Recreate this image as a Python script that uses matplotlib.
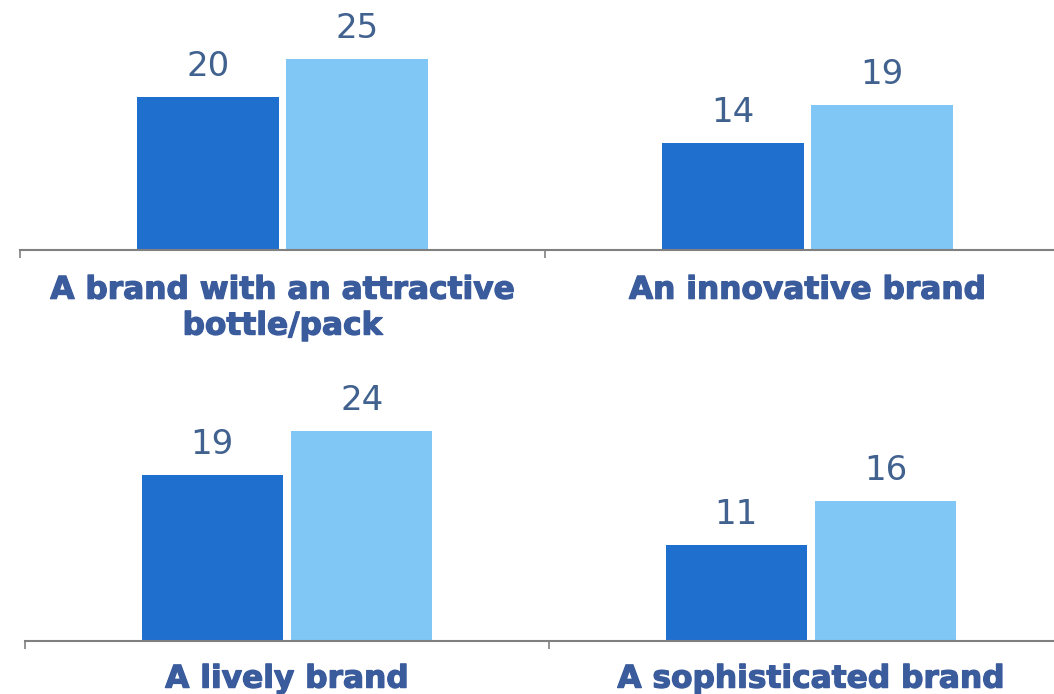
import matplotlib.pyplot as plt
import matplotlib.patheffects as pe
import numpy as np

# Survey attributes, two series per attribute (dark = first series, light = second)
top_labels = ["A brand with an attractive\nbottle/pack", "An innovative brand"]
top_dark = [20, 14]
top_light = [25, 19]

bottom_labels = ["A lively brand", "A sophisticated brand"]
bottom_dark = [19, 11]
bottom_light = [24, 16]

dark_color = "#1f6fcf"
light_color = "#80c7f6"
value_color = "#41618f"
label_color = "#3a5b9c"
axis_color = "#808080"

fig = plt.figure(figsize=(10.54, 6.94), dpi=100)

# one axes per row, with its own vertical scale
ax_top = fig.add_axes([20 / 1054, 444 / 694, 1050 / 1054, 229.5 / 694])
ax_bot = fig.add_axes([25 / 1054, 53 / 694, 1048 / 1054, 227.5 / 694])


def draw_row(ax, labels, dark, light, ymax, label_pad):
    x = np.arange(len(labels))
    width = 0.27
    offset = 0.1425
    b1 = ax.bar(x + 0.5 - offset, dark, width, color=dark_color)
    b2 = ax.bar(x + 0.5 + offset, light, width, color=light_color)
    for bars, vals in ((b1, dark), (b2, light)):
        for bar, v in zip(bars, vals):
            ax.annotate(str(v), (bar.get_x() + bar.get_width() / 2, v),
                        xytext=(0, 22), textcoords="offset points",
                        ha="center", va="center", fontsize=24.5,
                        color=value_color)
    for i, lab in enumerate(labels):
        ax.annotate(lab, (i + 0.5, 0), xycoords=("data", "axes fraction"),
                    xytext=(0, -label_pad), textcoords="offset points",
                    ha="center", va="top", fontsize=22.5, fontweight="bold",
                    color=label_color, linespacing=1.3,
                    path_effects=[pe.withStroke(linewidth=0.9,
                                                foreground=label_color)])

    ax.set_xlim(0, 2)
    ax.set_ylim(0, ymax)
    for side in ("top", "left", "right"):
        ax.spines[side].set_visible(False)
    ax.spines["bottom"].set_color(axis_color)
    ax.spines["bottom"].set_linewidth(1.5)
    ax.set_xticks([0, 1, 2])
    ax.set_xticklabels([])
    ax.tick_params(axis="x", direction="out", length=6, width=1.2,
                   color=axis_color)
    ax.set_yticks([])
    ax.patch.set_alpha(0)


draw_row(ax_top, top_labels, top_dark, top_light, 30, 18.5)
draw_row(ax_bot, bottom_labels, bottom_dark, bottom_light, 26, 17)

fig.savefig("out.png", dpi=100)
